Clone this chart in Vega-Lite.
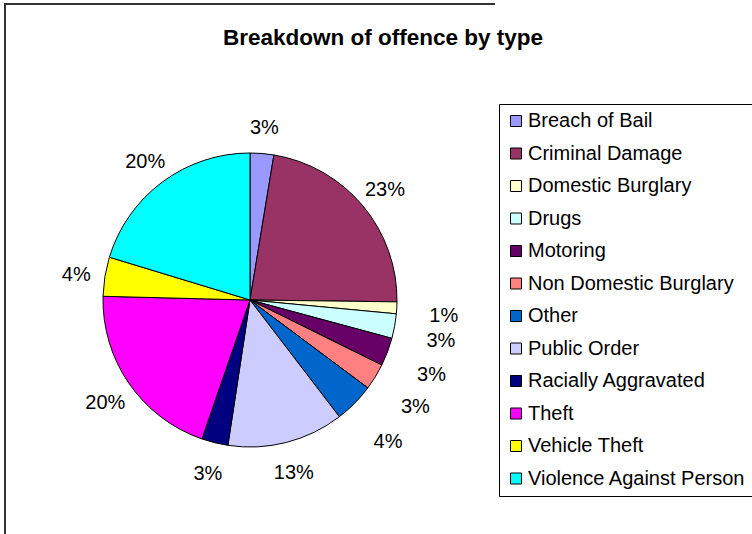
{
  "$schema": "https://vega.github.io/schema/vega-lite/v6.json",
  "width": 490,
  "height": 592,
  "autosize": {"type": "none"},
  "padding": {"left": 5, "top": 4, "right": 257, "bottom": 0},
  "background": "#ffffff",
  "view": {"stroke": "#333333", "strokeWidth": 2, "strokeDash": [490, 1082, 592], "fill": null},
  "title": {
    "text": "Breakdown of offence by type",
    "font": "Liberation Sans",
    "fontSize": 22.5,
    "fontWeight": "bold",
    "color": "#000000",
    "anchor": "middle",
    "offset": 0,
    "dx": 133,
    "dy": 45
  },
  "data": {
    "values": [
      {"type": "Breach of Bail", "share": 0.026, "rank": 1},
      {"type": "Criminal Damage", "share": 0.226, "rank": 2},
      {"type": "Domestic Burglary", "share": 0.013, "rank": 3},
      {"type": "Drugs", "share": 0.027, "rank": 4},
      {"type": "Motoring", "share": 0.031, "rank": 5},
      {"type": "Non Domestic Burglary", "share": 0.029, "rank": 6},
      {"type": "Other", "share": 0.044, "rank": 7},
      {"type": "Public Order", "share": 0.128, "rank": 8},
      {"type": "Racially Aggravated", "share": 0.029, "rank": 9},
      {"type": "Theft", "share": 0.201, "rank": 10},
      {"type": "Vehicle Theft", "share": 0.043, "rank": 11},
      {"type": "Violence Against Person", "share": 0.203, "rank": 12}
    ]
  },
  "encoding": {
    "theta": {"field": "share", "type": "quantitative", "stack": true},
    "order": {"field": "rank", "type": "quantitative"}
  },
  "layer": [
    {
      "mark": {"type": "arc", "outerRadius": 147, "stroke": "#000000", "strokeWidth": 1},
      "encoding": {
        "color": {
          "field": "type",
          "type": "nominal",
          "sort": null,
          "scale": {
            "domain": ["Breach of Bail", "Criminal Damage", "Domestic Burglary", "Drugs", "Motoring", "Non Domestic Burglary", "Other", "Public Order", "Racially Aggravated", "Theft", "Vehicle Theft", "Violence Against Person"],
            "range": ["#9999FF", "#993366", "#FFFFCC", "#CCFFFF", "#660066", "#FF8080", "#0066CC", "#CCCCFF", "#000080", "#FF00FF", "#FFFF00", "#00FFFF"]
          },
          "legend": {
            "title": null,
            "orient": "none",
            "legendX": 494,
            "legendY": 100,
            "labelFont": "Liberation Sans",
            "labelFontSize": 20,
            "labelColor": "#000000",
            "labelLimit": 400,
            "labelOffset": 2,
            "symbolType": "square",
            "symbolSize": 121,
            "symbolStrokeColor": "#000000",
            "symbolStrokeWidth": 1,
            "symbolOpacity": 1,
            "rowPadding": 12.5,
            "padding": 7,
            "strokeColor": "#000000",
            "fillColor": "#ffffff"
          }
        }
      }
    },
    {
      "mark": {"type": "text", "radius": 176, "dy": 3, "font": "Liberation Sans", "fontSize": 20, "fill": "#000000"},
      "encoding": {
        "text": {"field": "share", "type": "quantitative", "format": ".0%"},
        "detail": {"field": "type", "type": "nominal"},
        "opacity": {"condition": {"test": "datum.rank >= 3 && datum.rank <= 7", "value": 0}, "value": 1}
      }
    },
    {
      "mark": {"type": "text", "radius": 194, "dy": 6, "font": "Liberation Sans", "fontSize": 20, "fill": "#000000"},
      "encoding": {
        "text": {"field": "share", "type": "quantitative", "format": ".0%"},
        "detail": {"field": "type", "type": "nominal"},
        "opacity": {"condition": {"test": "datum.rank >= 3 && datum.rank <= 7", "value": 1}, "value": 0}
      }
    }
  ]
}
